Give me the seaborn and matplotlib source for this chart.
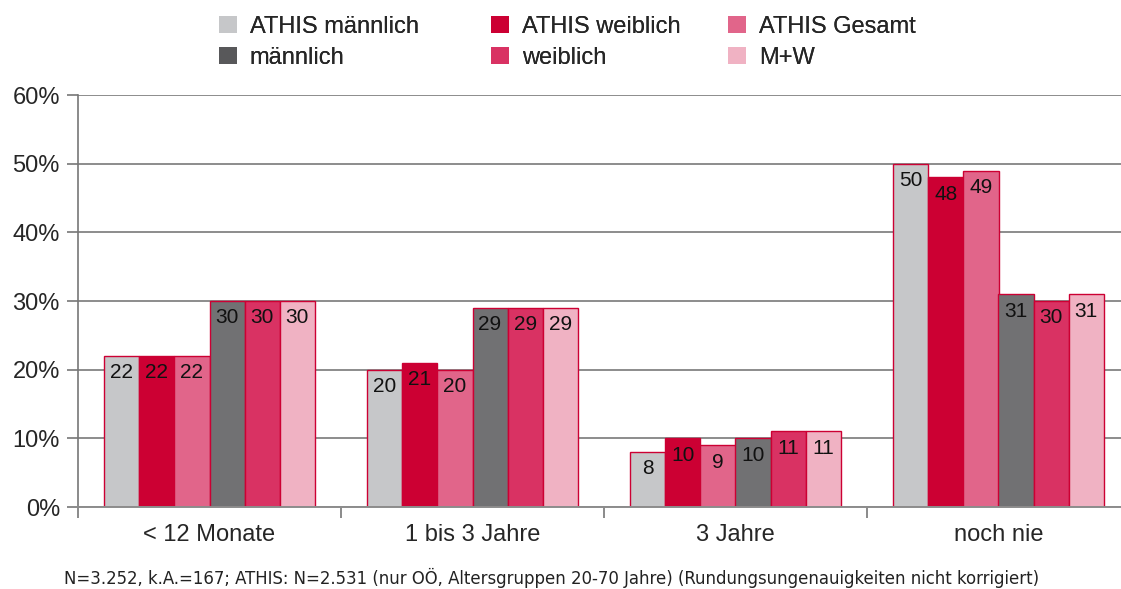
import matplotlib
matplotlib.use("Agg")
import matplotlib.pyplot as plt
import matplotlib.patches as mpatches
import pandas as pd
import seaborn as sns

categories = ["< 12 Monate", "1 bis 3 Jahre", "3 Jahre", "noch nie"]
series = ["ATHIS männlich", "ATHIS weiblich", "ATHIS Gesamt", "männlich", "weiblich", "M+W"]
values = {
    "ATHIS männlich": [22, 20, 8, 50],
    "ATHIS weiblich": [22, 21, 10, 48],
    "ATHIS Gesamt": [22, 20, 9, 49],
    "männlich": [30, 29, 10, 31],
    "weiblich": [30, 29, 11, 30],
    "M+W": [30, 29, 11, 31],
}
colors = ["#C6C7C9", "#CC0033", "#E1658A", "#717173", "#D93263", "#F0B2C3"]
legend_colors = ["#C6C7C9", "#CC0033", "#E1658A", "#58585A", "#D93263", "#F0B2C3"]
footnote = "N=3.252, k.A.=167; ATHIS: N=2.531 (nur OÖ, Altersgruppen 20-70 Jahre) (Rundungsungenauigkeiten nicht korrigiert)"

rows = []
for s in series:
    for c, v in zip(categories, values[s]):
        rows.append({"Kategorie": c, "Gruppe": s, "Wert": v})
df = pd.DataFrame(rows)

sns.set_style("white")
plt.rcParams["font.family"] = ["Liberation Sans", "DejaVu Sans"]

fig = plt.figure(figsize=(11.21, 5.89), dpi=100)
ax = fig.add_axes([78 / 1121, 1 - 507 / 589, (1130 - 78) / 1121, (507 - 95) / 589])

sns.barplot(data=df, x="Kategorie", y="Wert", hue="Gruppe", hue_order=series,
            order=categories, palette=colors, edgecolor="#CC0033", linewidth=1,
            saturation=1, legend=False, ax=ax)

for cont in ax.containers:
    ax.bar_label(cont, padding=-19, fontsize=15, color="#111111")

ax.set_ylim(0, 60)
ax.set_xlim(-0.5, 3.5)
ax.set_yticks(range(0, 61, 10))
ax.set_yticklabels([f"{t}%" for t in range(0, 61, 10)], fontsize=17)
ax.set_xticks(range(len(categories)))
ax.set_xticklabels(categories, fontsize=17)
ax.set_xticks([-0.5, 0.5, 1.5, 2.5, 3.5], minor=True)
ax.tick_params(axis="x", which="major", length=0, pad=12)
ax.tick_params(axis="x", which="minor", length=8, width=1.2, color="#777777", direction="out", bottom=True)
ax.tick_params(axis="y", length=8, width=1.2, color="#777777", direction="out", left=True, pad=5)
ax.set_xlabel("")
ax.set_ylabel("")
ax.yaxis.grid(True, color="#8C8C8C", linewidth=1.4)
ax.set_axisbelow(True)
for side in ["top", "right"]:
    ax.spines[side].set_visible(False)
ax.spines["left"].set_color("#777777")
ax.spines["left"].set_linewidth(1.2)
ax.spines["bottom"].set_color("#8C8C8C")
ax.spines["bottom"].set_linewidth(1.4)

# legend: three columns, each holding an ATHIS entry above its counterpart
handles = [mpatches.Patch(facecolor=c, edgecolor="none", label=s) for s, c in zip(series, legend_colors)]
col_x = [219, 491, 728]
for i, x in enumerate(col_x):
    leg = fig.legend([handles[i], handles[i + 3]], [series[i], series[i + 3]],
                     loc="upper left", bbox_to_anchor=(x / 1121, 1 - 16 / 589), frameon=False,
                     fontsize=17, handlelength=0.75, handleheight=0.75, handletextpad=0.55,
                     labelspacing=0.38, borderpad=0, borderaxespad=0)
    fig.add_artist(leg)

fig.text(552 / 1121, 1 - 578 / 589, footnote, ha="center", va="center",
         fontsize=13.25, family="DejaVu Sans", stretch="condensed", color="#222222")

fig.savefig("out.png", dpi=100)
